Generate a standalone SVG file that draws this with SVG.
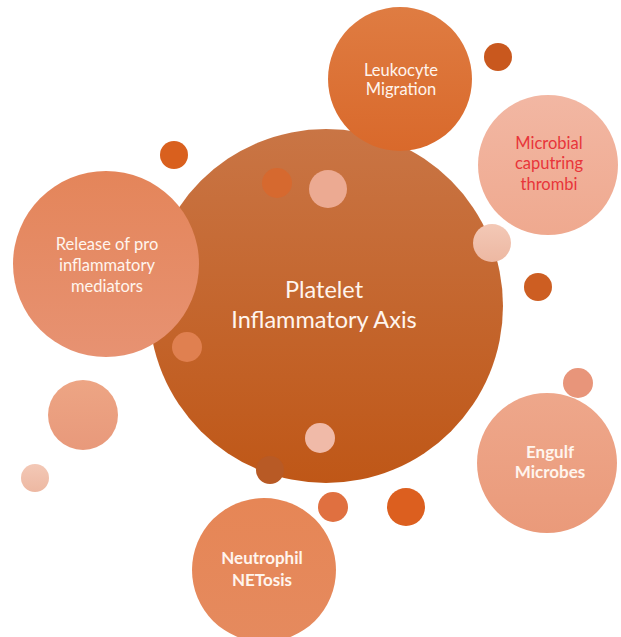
<svg xmlns="http://www.w3.org/2000/svg" width="621" height="637" viewBox="0 0 621 637">
<defs>
<linearGradient id="gMain" x1="0" y1="0" x2="0" y2="1"><stop offset="0" stop-color="#C97545"/><stop offset="1" stop-color="#BF5717"/></linearGradient>
<linearGradient id="gLeuk" x1="0" y1="0" x2="0" y2="1"><stop offset="0" stop-color="#DF7C42"/><stop offset="1" stop-color="#D9692B"/></linearGradient>
<linearGradient id="gRel" x1="0" y1="0" x2="0" y2="1"><stop offset="0" stop-color="#E4855A"/><stop offset="1" stop-color="#E79272"/></linearGradient>
<linearGradient id="gMic" x1="0" y1="0" x2="0" y2="1"><stop offset="0" stop-color="#F2B7A3"/><stop offset="1" stop-color="#EFA98F"/></linearGradient>
<linearGradient id="gEng" x1="0" y1="0" x2="0" y2="1"><stop offset="0" stop-color="#EEA78B"/><stop offset="1" stop-color="#EA9A7A"/></linearGradient>
<linearGradient id="gNeu" x1="0" y1="0" x2="0" y2="1"><stop offset="0" stop-color="#E68656"/><stop offset="1" stop-color="#E58A5E"/></linearGradient>
<linearGradient id="gPink" x1="0" y1="0" x2="0" y2="1"><stop offset="0" stop-color="#EDA584"/><stop offset="1" stop-color="#E8997B"/></linearGradient>
<linearGradient id="gLight" x1="0" y1="0" x2="0" y2="1"><stop offset="0" stop-color="#F3C8B6"/><stop offset="1" stop-color="#EDB8A2"/></linearGradient>
</defs>
<style>
.lbl{font-family:Lato,"Liberation Sans",sans-serif;font-size:16.5px;fill:#FFF5EE;text-anchor:middle}
.b{font-weight:bold;font-size:17px}
.red{fill:#E8353A}
.big{font-size:23.5px}
</style>
<rect width="621" height="637" fill="#ffffff"/>
<g id="dots-back">
<circle cx="498" cy="57" r="14" fill="#C9581E"/>
<circle cx="174" cy="155" r="14" fill="#D9601E"/>
<circle cx="538" cy="287" r="14" fill="#CD5E22"/>
<circle cx="83" cy="415" r="35" fill="url(#gPink)"/>
<circle cx="35" cy="478" r="14" fill="url(#gLight)"/>
<circle cx="578" cy="383" r="15" fill="#E8957A"/>
<circle cx="333" cy="507" r="15" fill="#E07040"/>
<circle cx="406" cy="507" r="19" fill="#DC5F1F"/>
</g>
<g id="main">
<circle cx="326" cy="306" r="177" fill="url(#gMain)"/>
<circle cx="277" cy="183" r="15" fill="#D6692F"/>
<circle cx="328" cy="189" r="19" fill="#ECAA92"/>
<circle cx="187" cy="347" r="15" fill="#E08050"/>
<circle cx="320" cy="438" r="15" fill="#F0BAA8"/>
<text class="lbl big" x="324" y="298">Platelet</text>
<text class="lbl big" x="324" y="328">Inflammatory Axis</text>
</g>
<g id="dot-bottom"><circle cx="270" cy="470" r="14" fill="#B85A25"/></g>
<g id="leukocyte">
<circle cx="400" cy="79" r="72" fill="url(#gLeuk)"/>
<text class="lbl" x="401" y="76">Leukocyte</text>
<text class="lbl" x="401" y="95">Migration</text>
</g>
<g id="microbial">
<circle cx="548" cy="165" r="70" fill="url(#gMic)"/>
<text class="lbl red" x="549" y="149">Microbial</text>
<text class="lbl red" x="549" y="169">caputring</text>
<text class="lbl red" x="549" y="190">thrombi</text>
</g>
<g id="dot-right"><circle cx="492" cy="243" r="19" fill="url(#gLight)"/></g>
<g id="release">
<circle cx="106" cy="264" r="93" fill="url(#gRel)"/>
<text class="lbl" x="107" y="250">Release of pro</text>
<text class="lbl" x="107" y="271">inflammatory</text>
<text class="lbl" x="107" y="292">mediators</text>
</g>
<g id="engulf">
<circle cx="547" cy="463" r="70" fill="url(#gEng)"/>
<text class="lbl b" x="550" y="458">Engulf</text>
<text class="lbl b" x="550" y="478">Microbes</text>
</g>
<g id="neutrophil">
<circle cx="264" cy="570" r="72" fill="url(#gNeu)"/>
<text class="lbl b" x="262" y="564">Neutrophil</text>
<text class="lbl b" x="262" y="586">NETosis</text>
</g>
<g id="connectors"/>
</svg>
